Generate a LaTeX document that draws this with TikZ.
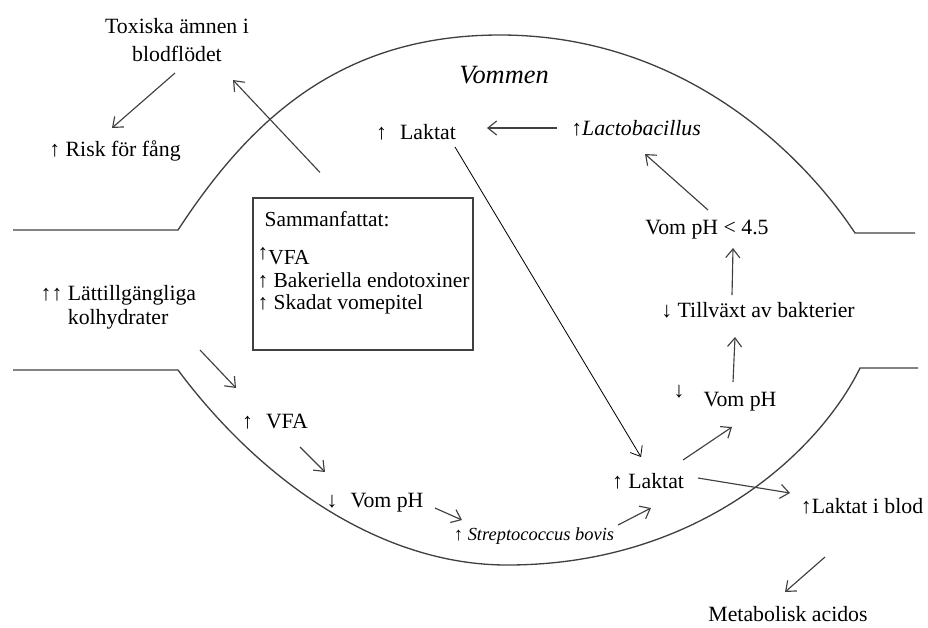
\documentclass[tikz,border=0pt]{standalone}
\usepackage{fontspec}
\setmainfont{Liberation Serif}
\usetikzlibrary{arrows.meta, positioning, calc}
\definecolor{linegray}{RGB}{64, 64, 64}

\begin{document}
\begin{tikzpicture}[x=0.02cm, y=-0.02cm,
  txt/.style={font=\fontsize{12.4}{15}\selectfont, inner sep=1pt},
  flow/.style={draw=linegray, line width=0.65pt, -{Straight Barb[length=5pt, width=8pt]}},
  wall/.style={draw=linegray, line width=0.75pt}]
  \useasboundingbox (0,0) rectangle (928,627);

  % Vommen (outline)
  \draw[wall] (13,230) -- (178,230) .. controls (250,120) and (340,35) .. (500,35)
    .. controls (680,35) and (800,150) .. (855,233) -- (915,233);
  \draw[wall] (13,370) -- (178,370) .. controls (260,480) and (380,565) .. (507,565)
    .. controls (700,565) and (820,450) .. (860,368) -- (918,368);
  \node[txt, font=\fontsize{15}{18}\selectfont\itshape] (rumen) at (504,75) {Vommen};

  % Blodet, vänster
  \node[txt, align=center, font=\fontsize{12.4}{16.4}\selectfont] (toxic) at (177,40) {Toxiska ämnen i\\blodflödet};
  \node[txt] (risk) at (115,151) {↑ Risk för fång};
  \node[txt, align=left, font=\fontsize{12.4}{13.6}\selectfont] (carbs) at (132,307) {\llap{↑↑ }Lättillgängliga\\kolhydrater};

  % Sammanfattat
  \node[draw=linegray, line width=0.65pt, minimum width=4.4cm, minimum height=3.04cm, inner sep=0pt] (summary) at (363,274) {};
  \node[txt, align=left, anchor=north west, font=\fontsize{12.2}{12.7}\selectfont] (summtext) at ($(summary.north west)+(3,12)$) {%
    \hspace{4pt}Sammanfattat:\\[9pt]
    \raisebox{3pt}{↑}VFA\\
    ↑ Bakeriella endotoxiner\\
    ↑ Skadat vomepitel};

  % Inne i vommen
  \node[txt] (lacttop) at (416,132) {↑\hspace{0.6em}Laktat};
  \node[txt] (lactob) at (636,128) {↑\textit{Lactobacillus}};
  \node[txt] (phlow) at (707,230) {Vom pH < 4.5};
  \node[txt] (growth) at (758,310) {↓ Tillväxt av bakterier};
  \node[txt] (phright) at (740,402) {Vom pH};
  \node[txt] (phrightmark) at (679,392) {↓};
  \node[txt] (lactbot) at (648,481) {↑ Laktat};
  \node[txt] (vfa) at (275,422) {↑\hspace{0.6em}VFA};
  \node[txt] (phleft) at (375,503) {↓\hspace{0.6em}Vom pH};
  \node[txt, font=\fontsize{10.5}{12}\selectfont] (strep) at (534,536) {↑ \textit{Streptococcus bovis}};

  % Blodet, höger
  \node[txt] (lactblood) at (862,506) {↑Laktat i blod};
  \node[txt] (acidosis) at (788,614) {Metabolisk acidos};

  % Pilar
  \draw[flow] ($(toxic)+(-2,33)$) -- ($(risk)+(-3,-23)$);
  \draw[flow] ($(summary.north)+(-43,-25)$) -- ($(toxic)+(56,40)$);
  \draw[flow] ($(lactob)+(-79,0)$) -- ($(lacttop)+(71,-4)$);
  \draw[-{Straight Barb[length=5pt, width=8pt]}, line width=0.45pt] ($(lacttop)+(39,15)$) -- ($(lactbot)+(-7,-24)$);
  \draw[flow] ($(phlow)+(1,-20)$) -- ($(lactob)+(9,26)$);
  \draw[flow] ($(growth)+(-26,-15)$) -- ($(phlow)+(26,18)$);
  \draw[flow] ($(phright)+(-7,-20)$) -- ($(growth)+(-23,27)$);
  \draw[flow] ($(lactbot)+(35,-21)$) -- ($(phright)+(-8,25)$);
  \draw[flow] ($(lactbot)+(50,-3)$) -- ($(lactblood)+(-72,-13)$);
  \draw[flow] ($(lactblood)+(-37,51)$) -- ($(acidosis)+(-3,-22)$);
  \draw[flow] ($(carbs)+(68,43)$) -- ($(vfa)+(-39,-34)$);
  \draw[flow] ($(vfa)+(25,25)$) -- ($(phleft)+(-50,-31)$);
  \draw[flow] ($(phleft)+(60,5)$) -- ($(strep)+(-72,-16)$);
  \draw[flow] ($(strep)+(84,-11)$) -- ($(lactbot)+(3,27)$);
\end{tikzpicture}
\end{document}
